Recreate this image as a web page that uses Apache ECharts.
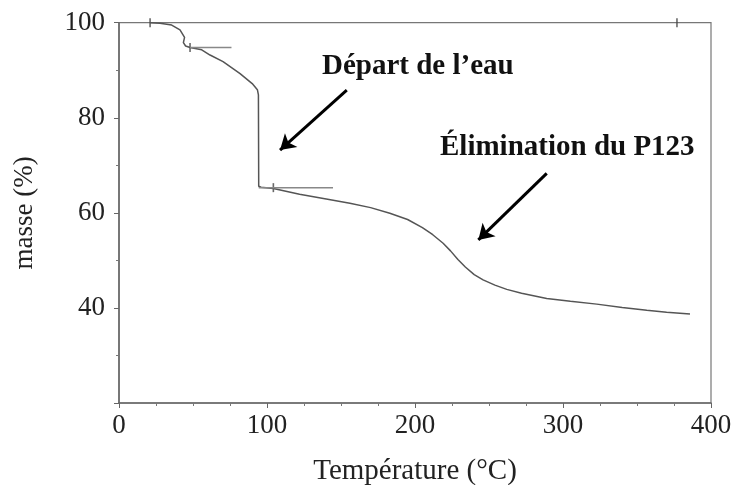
<!DOCTYPE html>
<html><head><meta charset="utf-8">
<script src="https://cdn.jsdelivr.net/npm/echarts@6/dist/echarts.min.js"></script>
<style>html,body{margin:0;padding:0;background:#fff}#c{width:737px;height:485px}</style>
</head><body><div id="c"></div>
<script>
// TGA curve: temperature (°C) and mass (%)
var temps  = [21, 27.7, 35.6, 41.2, 44.3, 43.5, 45, 48, 55.9, 61.5, 70.3, 81.8, 90, 93.5, 94.2, 94.4, 96, 104.3, 122, 140, 156, 170, 183, 195, 205, 212, 219, 224, 229, 234, 240, 246, 254, 262, 272, 289, 305, 322.8, 340, 356.6, 370, 385.8];
var masses = [100, 99.9, 99.5, 98.5, 96.9, 95.8, 95.1, 94.8, 94.3, 93.2, 91.8, 89.3, 87.2, 85.9, 84.8, 65.6, 65.4, 65.1, 63.9, 62.9, 62.0, 61.1, 59.9, 58.6, 56.9, 55.4, 53.6, 52.0, 50.2, 48.6, 47.0, 45.9, 44.8, 43.9, 43.1, 42.0, 41.4, 40.8, 40.1, 39.5, 39.1, 38.7];
// step-marker horizontal segments
var step1T = [48, 76];   var step1M = [94.8, 94.8];
var step2T = [94.4, 144.6]; var step2M = [65.3, 65.3];
// small vertical cursor ticks
var tickT = [21, 48, 104.3, 377];
var tickM = [100, 94.8, 65.3, 100];
// axis ticks
var xTicks = [0, 100, 200, 300, 400];
var yTicks = [40, 60, 80, 100];
// annotations
var annotTexts = ['Départ de l\u2019eau', 'Élimination du P123'];
var arrow1 = [[153.9, 85.8], [108.8, 73.2]];
var arrow2 = [[289, 68.3], [242.8, 54.3]];

function pairs(a, b) { return a.map(function (v, i) { return [v, b[i]]; }); }

var font = 'Liberation Serif';
var chart = echarts.init(document.getElementById('c'));
chart.setOption({
  backgroundColor: '#fff',
  animation: false,
  grid: { left: 119, right: 26, top: 22.7, bottom: 82, containLabel: false, outerBoundsMode: 'none',
          show: true, borderColor: '#777', borderWidth: 1.2, backgroundColor: 'transparent' },
  xAxis: {
    type: 'value', min: xTicks[0], max: xTicks[xTicks.length - 1], interval: 100,
    name: 'Température (°C)', nameLocation: 'middle', nameGap: 54,
    nameTextStyle: { fontFamily: font, fontSize: 29, color: '#222' },
    axisLine: { lineStyle: { color: '#666', width: 1.5 } },
    axisTick: { show: true, length: 5, lineStyle: { color: '#666' } },
    minorTick: { show: true, splitNumber: 4, length: 3, lineStyle: { color: '#777' } },
    splitLine: { show: false },
    axisLabel: { fontFamily: font, fontSize: 27, color: '#222', margin: 9 }
  },
  yAxis: {
    type: 'value', min: 20, max: yTicks[yTicks.length - 1], interval: 20,
    name: 'masse (%)', nameLocation: 'middle', nameGap: 81,
    nameTextStyle: { fontFamily: font, fontSize: 27, color: '#222' },
    axisLine: { lineStyle: { color: '#666', width: 1.5 } },
    axisTick: { show: true, length: 5, lineStyle: { color: '#666' } },
    minorTick: { show: true, splitNumber: 2, length: 3, lineStyle: { color: '#777' } },
    splitLine: { show: false },
    axisLabel: { fontFamily: font, fontSize: 27, color: '#222', margin: 14,
      formatter: function (v) { return yTicks.indexOf(v) >= 0 ? String(v) : ''; } }
  },
  series: [
    { type: 'line', data: pairs(temps, masses), showSymbol: false, smooth: false,
      lineStyle: { color: '#555', width: 1.5 },
      markLine: {
        silent: true, symbol: ['none', 'arrow'], symbolSize: [14, 15],
        lineStyle: { color: '#000', width: 3, type: 'solid' }, label: { show: false },
        data: [
          [{ coord: arrow1[0] }, { coord: arrow1[1] }],
          [{ coord: arrow2[0] }, { coord: arrow2[1] }]
        ]
      }
    },
    { type: 'line', data: pairs(step1T, step1M), showSymbol: false, lineStyle: { color: '#888', width: 1.5 } },
    { type: 'line', data: pairs(step2T, step2M), showSymbol: false, lineStyle: { color: '#888', width: 1.5 } },
    { type: 'scatter', data: pairs(tickT, tickM), symbol: 'rect', symbolSize: [1.6, 9],
      itemStyle: { color: '#444' } }
  ],
  graphic: [
    { type: 'text', left: 322, top: 52, style: { text: annotTexts[0], font: 'bold 29px "Liberation Serif"', fill: '#111' } },
    { type: 'text', left: 440, top: 133, style: { text: annotTexts[1], font: 'bold 29px "Liberation Serif"', fill: '#111' } }
  ]
});
</script></body></html>
